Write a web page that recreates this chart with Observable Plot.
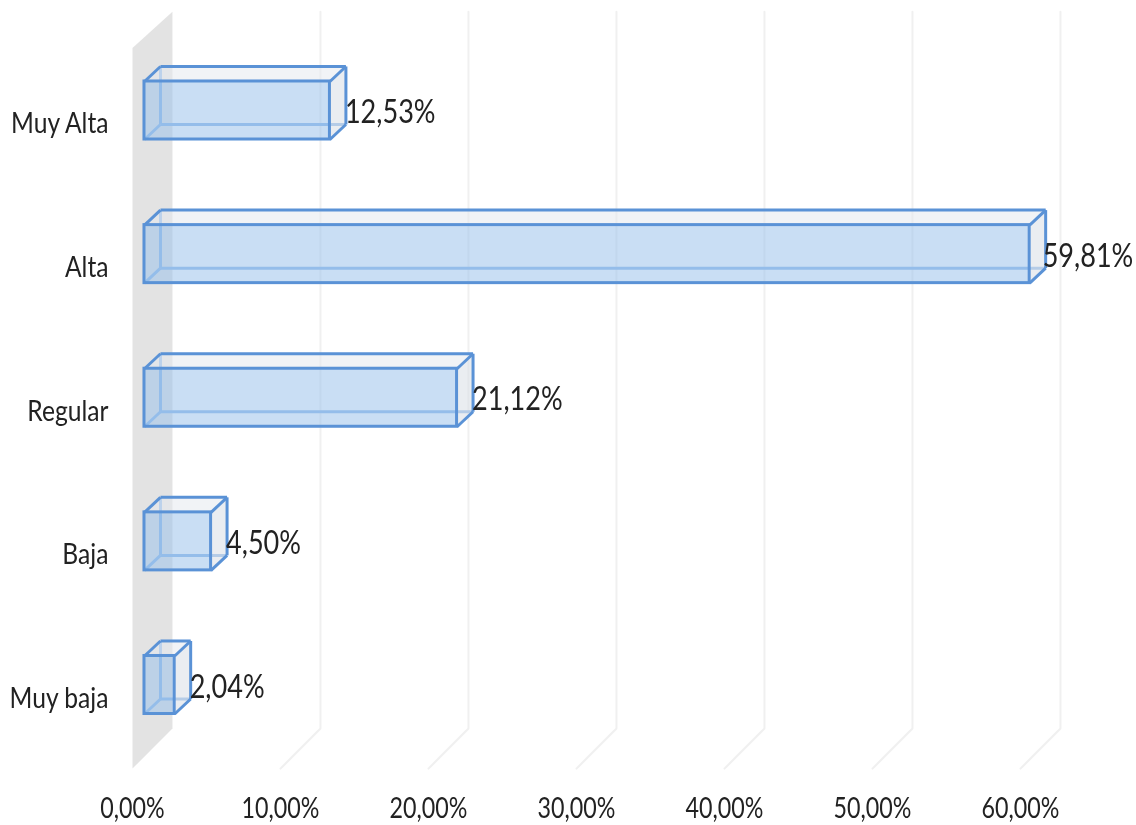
<!DOCTYPE html>
<html><head><meta charset="utf-8">
<script src="https://cdn.jsdelivr.net/npm/d3@7"></script>
<script src="https://cdn.jsdelivr.net/npm/@observablehq/plot@0.6"></script>
<style>html,body{margin:0;padding:0;background:#fff}svg{display:block;filter:blur(0.6px)}</style>
</head><body><div id="chart"></div>
<script>
const categories = ["Muy baja", "Baja", "Regular", "Alta", "Muy Alta"];
const values = [2.04, 4.50, 21.12, 59.81, 12.53];
const valueLabels = ["2,04%", "4,50%", "21,12%", "59,81%", "12,53%"];
const xTicks = [0, 10, 20, 30, 40, 50, 60];

const font = "Lato,'Liberation Sans',sans-serif";
// 3D projection expressed in data units
const floorDX = 2.70, floorDY = 0.279, wallTopDY = 0.251;
const floorLow = -0.582, wallHigh = 4.436;
const inset = 0.81, barDX = 1.08, barDY = 0.1045, half = 0.202;

const poly = (id, pts) => pts.map(([x, y]) => ({id, x, y}));
const wall = poly("wall", [[0, floorLow], [0, wallHigh], [floorDX, wallHigh + wallTopDY], [floorDX, floorLow + floorDY]]);
const grid = xTicks.slice(1).flatMap(t => poly(t, [[t, floorLow], [t + floorDX, floorLow + floorDY], [t + floorDX, wallHigh + wallTopDY]]));

const bars = values.map((v, i) => ({
  l: inset, r: inset + v, b: i - half, t: i + half, L: inset + barDX, R: inset + barDX + v, B: i - half + barDY, T: i + half + barDY, i, v
}));
const topFaces = bars.flatMap(d => poly("t" + d.i, [[d.l, d.t], [d.r, d.t], [d.R, d.T], [d.L, d.T]]));
const rightFaces = bars.flatMap(d => poly("r" + d.i, [[d.r, d.t], [d.R, d.T], [d.R, d.B], [d.r, d.b]]));
const fronts = bars.flatMap(d => poly("f" + d.i, [[d.l, d.b], [d.r, d.b], [d.r, d.t], [d.l, d.t]]));
const hidden = bars.flatMap(d => [
  [d.L, d.B, d.L, d.T], [d.L, d.B, d.R, d.B], [d.l, d.b, d.L, d.B]
]);
const visible = bars.flatMap(d => [
  [d.L, d.T, d.R, d.T], [d.R, d.T, d.R, d.B],
  [d.l, d.t, d.L, d.T], [d.r, d.t, d.R, d.T], [d.r, d.b, d.R, d.B]
]);
const link = (arr, o) => Plot.link(arr, {x1: d => d[0], y1: d => d[1], x2: d => d[2], y2: d => d[3], ...o});
const blue = "#5a92d6";
const valueText = (filter, dx) => Plot.text(bars, {filter, x: "R", y: "i", text: d => valueLabels[d.i], textAnchor: "start", dy: 2, dx, fontSize: 33, fill: "#222", className: "vlabel"});

const chart = Plot.plot({
  width: 1136, height: 825,
  marginLeft: 0, marginRight: 0, marginTop: 0, marginBottom: 27,
  style: {fontFamily: font, background: "#fff", color: "#222"},
  x: {domain: [0, 60], range: [132, 1020], label: null},
  y: {domain: [0, 4], range: [684.5, 110], label: null, axis: null},
  marks: [
    Plot.line(grid, {x: "x", y: "y", z: "id", stroke: "#f0f0f0", strokeWidth: 2}),
    Plot.line(wall, {x: "x", y: "y", z: "id", fill: "#e3e3e3", stroke: "none"}),
    link(hidden, {stroke: "#8ab6e8", strokeWidth: 3}),
    Plot.line(topFaces, {x: "x", y: "y", z: "id", fill: "#e6eaee", fillOpacity: 0.55, stroke: "none"}),
    Plot.line(rightFaces, {x: "x", y: "y", z: "id", fill: "#d8dfe6", fillOpacity: 0.55, stroke: "none"}),
    link(visible, {stroke: blue, strokeWidth: 3}),
    Plot.line(fronts, {x: "x", y: "y", z: "id", fill: "#9dc3eb", fillOpacity: 0.55, stroke: "none"}),
    Plot.rect(bars, {x1: "l", x2: "r", y1: "b", y2: "t", fill: "none", stroke: blue, strokeWidth: 3}),
    valueText(d => d.v < 50, -1),
    valueText(d => d.v >= 50, -3),
    Plot.axisX({ticks: xTicks, tickFormat: d => d.toFixed(2).replace(".", ",") + "%", tickSize: 0, tickPadding: 0, fontSize: 28, label: null, fontFamily: font, fill: "#222", className: "tlabel"}),
    Plot.text([0, 1, 2, 3, 4], {x: () => 0, y: d => d, text: i => categories[i], textAnchor: "end", dx: -24, dy: 14, fontSize: 28, fill: "#222", className: "clabel"})
  ]
});
document.getElementById("chart").append(chart);
// Condense glyphs horizontally, as in the reference's stretched picture
const factorFor = t => t.closest(".vlabel") ? 0.82 : t.closest(".clabel") ? 0.88 : 0.83;
const condense = () => chart.querySelectorAll("text").forEach(t => {
  t.removeAttribute("textLength");
  t.setAttribute("textLength", t.getComputedTextLength() * factorFor(t));
  t.setAttribute("lengthAdjust", "spacingAndGlyphs");
});
condense();
</script></body></html>
